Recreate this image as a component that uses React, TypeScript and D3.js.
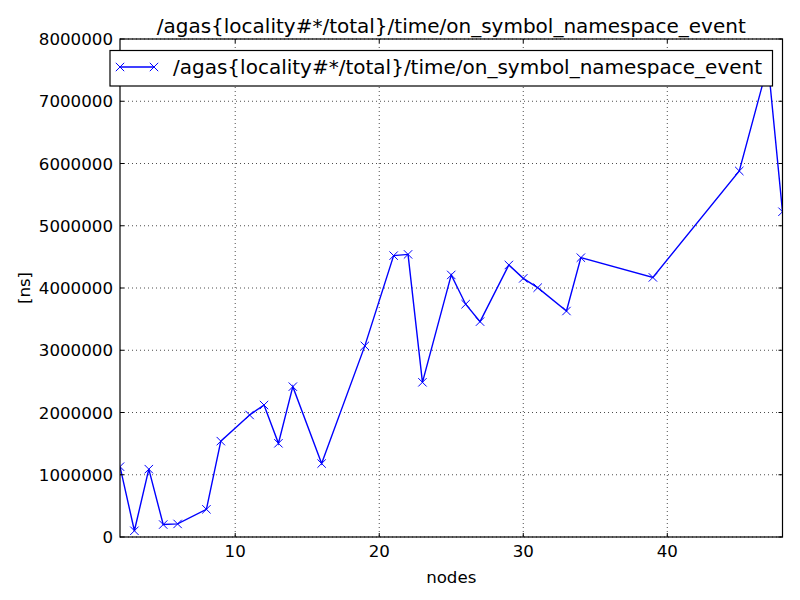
import React from "react";
import * as d3 from "d3";

const nodes = [2, 3, 4, 5, 6, 8, 9, 11, 12, 13, 14, 16, 19, 21, 22, 23, 25, 26, 27, 29, 30, 31, 33, 34, 39, 45, 47, 48];
const timesNs = [1130000, 100000, 1090000, 200000, 210000, 445000, 1540000, 1960000, 2120000, 1505000, 2415000, 1180000, 3070000, 4520000, 4540000, 2485000, 4210000, 3740000, 3460000, 4370000, 4155000, 4005000, 3630000, 4487000, 4170000, 5880000, 7600000, 5225000];
const xTicks = [10, 20, 30, 40];
const yTicks = [0, 1000000, 2000000, 3000000, 4000000, 5000000, 6000000, 7000000, 8000000];
const seriesName = "/agas{locality#*/total}/time/on_symbol_namespace_event";
const titleText = "/agas{locality#*/total}/time/on_symbol_namespace_event";
const xLabel = "nodes";
const yLabel = "[ns]";

const W = 800, H = 600;
const L = 120, R = 782.5, T = 39, B = 537;
const FONT = "DejaVu Sans";
const FS = 16.67;
const FS_BIG = 20;
const BLUE = "#0000ff";

function XMarker({ x, y }: { x: number; y: number }) {
  const s = 4.2;
  return (
    <path d={`M${x - s},${y - s}L${x + s},${y + s}M${x - s},${y + s}L${x + s},${y - s}`} stroke={BLUE} strokeWidth={1} fill="none" />
  );
}

export default function App() {
  const x = d3.scaleLinear().domain([2, 48]).range([L, R]);
  const y = d3.scaleLinear().domain([0, 8000000]).range([B, T]);
  const data = nodes.map((n, i) => ({ n, v: timesNs[i] }));
  const line = d3.line<{ n: number; v: number }>().x(d => x(d.n)).y(d => y(d.v));

  return (
    <svg width={W} height={H} style={{ position: "absolute", left: 0, top: 0, background: "#fff" }} fontFamily={FONT}>
      <rect x={0} y={0} width={W} height={H} fill="#fff" />
      <defs>
        <clipPath id="plotclip">
          <rect x={L} y={T} width={R - L} height={B - T} />
        </clipPath>
      </defs>
      {/* grid */}
      {xTicks.map(t => (
        <line key={"gx" + t} x1={x(t)} x2={x(t)} y1={T} y2={B} stroke="#000" strokeWidth={0.7} strokeDasharray="1,3" />
      ))}
      {yTicks.map(t => (
        <line key={"gy" + t} x1={L} x2={R} y1={y(t)} y2={y(t)} stroke="#000" strokeWidth={0.7} strokeDasharray="1,3" />
      ))}
      {/* data */}
      <g clipPath="url(#plotclip)">
        <path d={line(data) || ""} fill="none" stroke={BLUE} strokeWidth={1.4} />
        {data.map((d, i) => (
          <XMarker key={i} x={x(d.n)} y={y(d.v)} />
        ))}
      </g>
      {/* ticks */}
      {xTicks.map(t => (
        <g key={"tx" + t}>
          <line x1={x(t)} x2={x(t)} y1={B} y2={B - 4} stroke="#000" strokeWidth={1} />
          <line x1={x(t)} x2={x(t)} y1={T} y2={T + 4} stroke="#000" strokeWidth={1} />
          <text x={x(t)} y={557} textAnchor="middle" fontSize={FS} fill="#000">{t}</text>
        </g>
      ))}
      {yTicks.map(t => (
        <g key={"ty" + t}>
          <line x1={L} x2={L + 4} y1={y(t)} y2={y(t)} stroke="#000" strokeWidth={1} />
          <line x1={R} x2={R - 4} y1={y(t)} y2={y(t)} stroke="#000" strokeWidth={1} />
          <text x={113} y={y(t)} dy="0.36em" textAnchor="end" fontSize={FS} fill="#000">{t}</text>
        </g>
      ))}
      {/* frame */}
      <rect x={L} y={T} width={R - L} height={B - T} fill="none" stroke="#000" strokeWidth={1.2} />
      {/* labels */}
      <text x={(L + R) / 2} y={583} textAnchor="middle" fontSize={FS} fill="#000">{xLabel}</text>
      <text transform={`translate(30,${(T + B) / 2}) rotate(-90)`} textAnchor="middle" fontSize={FS} fill="#000">{yLabel}</text>
      <text x={(L + R) / 2} y={33} textAnchor="middle" fontSize={FS_BIG} fill="#000">{titleText}</text>
      {/* legend */}
      <g>
        <rect x={110} y={50.5} width={662.5} height={35.5} fill="#fff" stroke="#000" strokeWidth={1.2} />
        <line x1={120} x2={154} y1={67} y2={67} stroke={BLUE} strokeWidth={1.4} />
        <XMarker x={120} y={67} />
        <XMarker x={154} y={67} />
        <text x={173} y={74} fontSize={FS_BIG} fill="#000">{seriesName}</text>
      </g>
    </svg>
  );
}
